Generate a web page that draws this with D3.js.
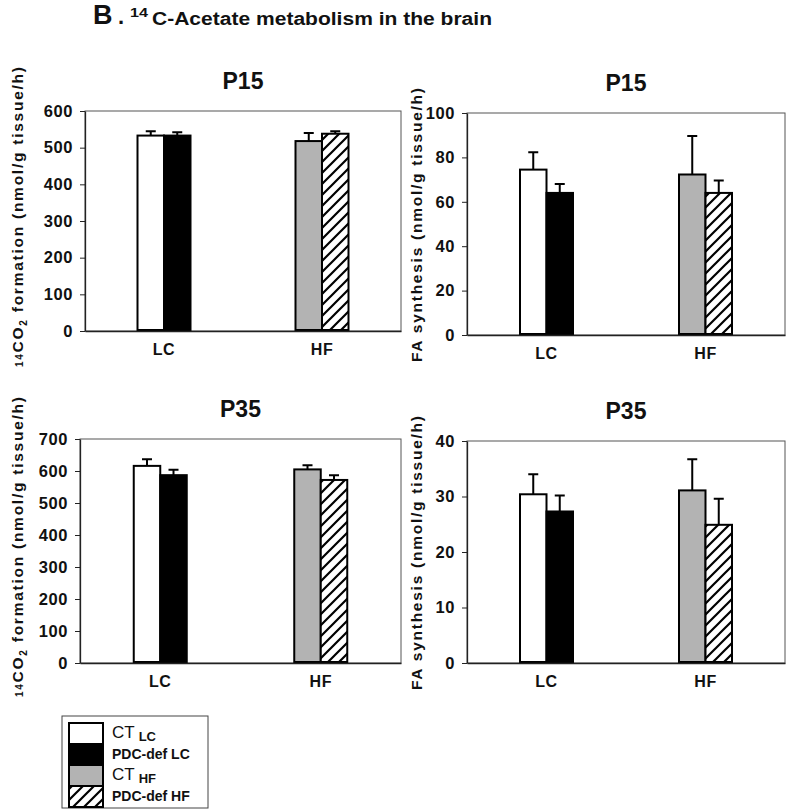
<!DOCTYPE html>
<html>
<head>
<meta charset="utf-8">
<script src="https://cdn.jsdelivr.net/npm/d3@7"></script>
<style>
  body { margin: 0; background: #fff; }
  svg { font-family: "Liberation Sans", Arial, sans-serif; }
</style>
</head>
<body>
<div id="chart"></div>
<script>
// groups on the x axis, and the four bars (diet x genotype) in draw order
const groups = ['LC', 'HF'];
const seriesKeys = ['CT LC', 'PDC-def LC', 'CT HF', 'PDC-def HF'];

// 14CO2 formation / FA synthesis, mean and upper error (SEM) per bar
const co2P15Mean = [533, 533, 518, 538];
const co2P15Err = [12, 9, 22, 7];
const faP15Mean = [74.5, 64, 72.3, 64];
const faP15Err = [7.8, 4, 17.3, 5.6];
const co2P35Mean = [616, 587, 605, 572];
const co2P35Err = [21, 17, 13, 15];
const faP35Mean = [30.4, 27.3, 31.1, 24.9];
const faP35Err = [3.6, 2.9, 5.6, 4.7];

// tick values
const co2P15Ticks = [0, 100, 200, 300, 400, 500, 600];
const faP15Ticks = [0, 20, 40, 60, 80, 100];
const co2P35Ticks = [0, 100, 200, 300, 400, 500, 600, 700];
const faP35Ticks = [0, 10, 20, 30, 40];

const width = 790, height = 811;

const svg = d3.select('#chart').append('svg')
    .attr('width', width)
    .attr('height', height);

// hatch pattern "/"
const defs = svg.append('defs');
defs.append('pattern')
    .attr('id', 'hatch')
    .attr('patternUnits', 'userSpaceOnUse')
    .attr('width', 11)
    .attr('height', 11)
    .call(p => {
        p.append('rect').attr('width', 11).attr('height', 11).attr('fill', 'white');
        p.append('path')
            .attr('d', 'M-1,1 l2,-2 M0,11 l11,-11 M10,12 l2,-2')
            .attr('stroke', 'black')
            .attr('stroke-width', 2.2);
    });

const fills = ['white', 'black', '#b3b3b3', 'url(#hatch)'];

// Title (the original is stretched a little horizontally)
svg.append('text')
    .attr('x', 93).attr('y', 24)
    .attr('font-size', 27).attr('font-weight', 'bold').attr('fill', '#111')
    .text('B');
svg.append('text')
    .attr('x', 118).attr('y', 24)
    .attr('font-size', 22).attr('font-weight', 'bold').attr('fill', '#111')
    .text('.');
svg.append('text')
    .attr('x', 130).attr('y', 17)
    .attr('font-size', 13).attr('font-weight', 'bold').attr('fill', '#111')
    .attr('textLength', 18).attr('lengthAdjust', 'spacingAndGlyphs')
    .text('14');
svg.append('text')
    .attr('x', 152).attr('y', 25)
    .attr('font-size', 18).attr('font-weight', 'bold').attr('fill', '#111')
    .attr('textLength', 340).attr('lengthAdjust', 'spacingAndGlyphs')
    .text('C-Acetate metabolism in the brain');

function drawPanel(p) {
    const g = svg.append('g');

    const y = d3.scaleLinear()
        .domain([0, p.ticks[p.ticks.length - 1]])
        .range([p.bottom, p.top]);

    const x = d3.scaleBand()
        .domain(groups)
        .range([p.left, p.right]);

    const barW = 26.5;

    // frame
    g.append('rect')
        .attr('x', p.left)
        .attr('y', p.top)
        .attr('width', p.right - p.left)
        .attr('height', p.bottom - p.top)
        .attr('fill', 'none')
        .attr('stroke', '#555')
        .attr('stroke-width', 1);

    // bars
    const bars = seriesKeys.map((k, i) => ({
        key: k,
        group: groups[Math.floor(i / 2)],
        idx: i % 2,
        value: p.mean[i],
        err: p.err[i],
        fill: fills[i]
    }));

    const barX = d => x(d.group) + x.bandwidth() / 2 - barW + d.idx * barW;

    // error bars (upper only)
    g.selectAll('.err')
        .data(bars)
        .join('path')
        .attr('class', 'err')
        .attr('fill', 'none')
        .attr('stroke', 'black')
        .attr('stroke-width', 2)
        .attr('d', d => {
            const cx = barX(d) + barW / 2;
            const y0 = y(d.value), y1 = y(d.value + d.err);
            return `M${cx},${y0} V${y1} M${cx - 5},${y1} H${cx + 5}`;
        });

    g.selectAll('.bar')
        .data(bars)
        .join('rect')
        .attr('class', 'bar')
        .attr('x', barX)
        .attr('y', d => y(d.value))
        .attr('width', barW)
        .attr('height', d => p.bottom - y(d.value) - 1)
        .attr('fill', d => d.fill)
        .attr('stroke', 'black')
        .attr('stroke-width', 2);

    // y axis
    const yAxis = g.append('g')
        .attr('transform', `translate(${p.left},0)`)
        .call(d3.axisLeft(y).tickValues(p.ticks).tickSize(5).tickPadding(7).tickSizeOuter(0));
    yAxis.select('.domain').attr('stroke', '#222').attr('stroke-width', 1.3);
    yAxis.selectAll('.tick line').attr('stroke', '#222');
    yAxis.selectAll('text')
        .attr('font-size', 16.5)
        .attr('font-weight', 'bold')
        .attr('fill', '#111')
        .attr('letter-spacing', 0.6)
        .attr('font-family', '"Liberation Sans", Arial, sans-serif');

    // x axis
    const xAxis = g.append('g')
        .attr('transform', `translate(0,${p.bottom})`)
        .call(d3.axisBottom(x).tickSize(0).tickPadding(13));
    xAxis.select('.domain').attr('stroke', '#222').attr('stroke-width', 1.3);
    xAxis.selectAll('text')
        .attr('font-size', 16)
        .attr('font-weight', 'bold')
        .attr('fill', '#111')
        .attr('letter-spacing', 0.5)
        .attr('font-family', '"Liberation Sans", Arial, sans-serif');

    // panel title
    g.append('text')
        .attr('x', (p.left + p.right) / 2)
        .attr('y', p.top - 22)
        .attr('text-anchor', 'middle')
        .attr('font-size', 23)
        .attr('font-weight', 'bold')
        .attr('fill', '#111')
        .text(p.title);

    // y label
    const lab = g.append('text')
        .attr('transform', `translate(${p.labelX},${(p.top + p.bottom) / 2 + p.labelDy}) rotate(-90)`)
        .attr('text-anchor', 'middle')
        .attr('font-size', 15.5)
        .attr('font-weight', 'bold')
        .attr('fill', '#111')
        .attr('textLength', p.labelLen)
        .attr('lengthAdjust', 'spacing');
    if (p.co2) {
        lab.append('tspan').attr('font-size', 10).text('14');
        lab.append('tspan').text('CO');
        lab.append('tspan').attr('font-size', 10).attr('dy', 4).text('2');
        lab.append('tspan').attr('dy', -4).text(' formation (nmol/g tissue/h)');
    } else {
        lab.text('FA synthesis (nmol/g tissue/h)');
    }
}

drawPanel({ title: 'P15', left: 85, right: 401, top: 111, bottom: 331, ticks: co2P15Ticks, mean: co2P15Mean, err: co2P15Err, co2: true, labelX: 23, labelDy: -4, labelLen: 300 });
drawPanel({ title: 'P15', left: 467, right: 785, top: 113, bottom: 335, ticks: faP15Ticks, mean: faP15Mean, err: faP15Err, co2: false, labelX: 422, labelDy: 1, labelLen: 274 });
drawPanel({ title: 'P35', left: 80, right: 401, top: 439, bottom: 663, ticks: co2P35Ticks, mean: co2P35Mean, err: co2P35Err, co2: true, labelX: 23, labelDy: -4, labelLen: 300 });
drawPanel({ title: 'P35', left: 467, right: 785, top: 441, bottom: 663, ticks: faP35Ticks, mean: faP35Mean, err: faP35Err, co2: false, labelX: 422, labelDy: 1, labelLen: 274 });

// legend
const legendMain = ['CT', 'PDC-def LC', 'CT', 'PDC-def HF'];
const legendSub = ['LC', '', 'HF', ''];
const legend = svg.append('g');
legend.append('rect')
    .attr('x', 62).attr('y', 716)
    .attr('width', 146).attr('height', 92)
    .attr('fill', 'white')
    .attr('stroke', '#444')
    .attr('stroke-width', 1);

const rowH = 21;
seriesKeys.forEach((k, i) => {
    const ry = 723 + i * rowH;
    legend.append('rect')
        .attr('x', 69).attr('y', ry)
        .attr('width', 34).attr('height', rowH)
        .attr('fill', fills[i])
        .attr('stroke', 'black')
        .attr('stroke-width', 2);
    const t = legend.append('text')
        .attr('x', 112)
        .attr('y', ry + 15)
        .attr('fill', '#111');
    if (legendSub[i]) {
        t.append('tspan').attr('font-size', 17).text(legendMain[i]);
        t.append('tspan').attr('font-size', 13).attr('font-weight', 'bold').attr('dx', 4).attr('dy', 3).text(legendSub[i]);
    } else {
        t.attr('font-size', 14).attr('font-weight', 'bold').text(legendMain[i]);
    }
});
</script>
</body>
</html>
